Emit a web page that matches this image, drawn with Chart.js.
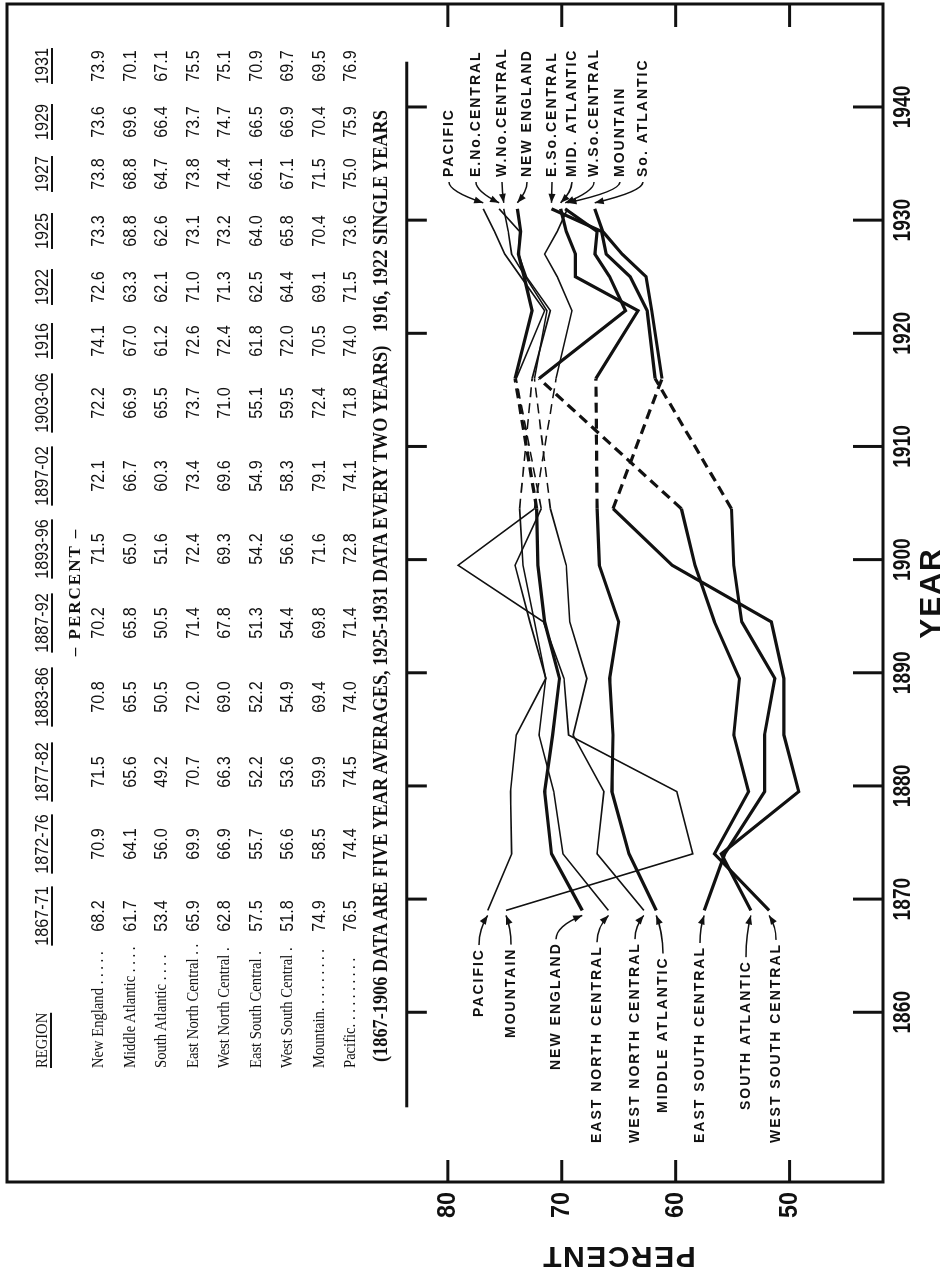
<!DOCTYPE html>
<html>
<head>
<meta charset="utf-8">
<script src="https://cdn.jsdelivr.net/npm/chart.js"></script>
<style>
html, body { margin:0; padding:0; background:#fff; }
body { width:950px; height:1272px; overflow:hidden; position:relative; }
/* the figure is laid out landscape and turned a quarter turn, as on the printed page */
#page { position:absolute; left:0; top:0; width:1272px; height:950px;
  transform-origin:0 0; transform:translate(0,1272px) rotate(-90deg); }
#chart { position:absolute; left:0; top:0; width:1272px; height:950px; }
#table { position:absolute; left:0; top:0; width:1272px; height:950px; color:#111; }
#table span { position:absolute; white-space:nowrap; }
.num { font:19px "Liberation Sans", Arial, sans-serif; transform:translate(-50%,-50%) scaleX(0.85); }
.head { text-decoration:underline; text-decoration-thickness:1.5px; text-underline-offset:3px; }
.name { font:17px "Liberation Serif", "Times New Roman", serif; transform:translateY(-50%) scaleX(0.86); transform-origin:0 50%; }
.pct { font:bold 17px "Liberation Serif", serif; letter-spacing:2px; transform:translate(-50%,-50%); }
.note { font:bold 22px "Liberation Serif", serif; transform-origin:0 50%; }
</style>
</head>
<body>
<div id="page">
<canvas id="chart" width="1272" height="950"></canvas>
<div id="table"></div>
</div>
<script>
// periods in the table and the year each one is plotted at
var periods = ['1867-71','1872-76','1877-82','1883-86','1887-92','1893-96','1897-02','1903-06','1916','1922','1925','1927','1929','1931'];
var years = [1869, 1874, 1879.5, 1884.5, 1889.5, 1894.5, 1899.5, 1904.5, 1916, 1922, 1925, 1927, 1929, 1931];

// percent, by region
var newEngland       = [68.2, 70.9, 71.5, 70.8, 70.2, 71.5, 72.1, 72.2, 74.1, 72.6, 73.3, 73.8, 73.6, 73.9];
var middleAtlantic   = [61.7, 64.1, 65.6, 65.5, 65.8, 65.0, 66.7, 66.9, 67.0, 63.3, 68.8, 68.8, 69.6, 70.1];
var southAtlantic    = [53.4, 56.0, 49.2, 50.5, 50.5, 51.6, 60.3, 65.5, 61.2, 62.1, 62.6, 64.7, 66.4, 67.1];
var eastNorthCentral = [65.9, 69.9, 70.7, 72.0, 71.4, 72.4, 73.4, 73.7, 72.6, 71.0, 73.1, 73.8, 73.7, 75.5];
var westNorthCentral = [62.8, 66.9, 66.3, 69.0, 67.8, 69.3, 69.6, 71.0, 72.4, 71.3, 73.2, 74.4, 74.7, 75.1];
var eastSouthCentral = [57.5, 55.7, 52.2, 52.2, 51.3, 54.2, 54.9, 55.1, 61.8, 62.5, 64.0, 66.1, 66.5, 70.9];
var westSouthCentral = [51.8, 56.6, 53.6, 54.9, 54.4, 56.6, 58.3, 59.5, 72.0, 64.4, 65.8, 67.1, 66.9, 69.7];
var mountain         = [74.9, 58.5, 59.9, 69.4, 69.8, 71.6, 79.1, 72.4, 70.5, 69.1, 70.4, 71.5, 70.4, 69.5];
var pacific          = [76.5, 74.4, 74.5, 74.0, 71.4, 72.8, 74.1, 71.8, 74.0, 71.5, 73.6, 75.0, 75.9, 76.9];

var yearTicks = [1860, 1870, 1880, 1890, 1900, 1910, 1920, 1930, 1940];
var percentTicks = [50, 60, 70, 80];

var footnote = '(1867-1906 DATA ARE FIVE YEAR AVERAGES, 1925-1931 DATA EVERY TWO YEARS)\u00a0\u00a0 1916, 1922 SINGLE YEARS';

var ink = '#111';
var gapStart = 1904.5;   // 1904.5 -> 1916 is drawn dashed

// name in table, label at start, label at end, series, heavy line?, label rows (start, end) and start offset
var regions = [
  { name:'New England . . . . .',     startLabel:'NEW ENGLAND',        endLabel:'NEW ENGLAND',  values:newEngland,       heavy:true,  rowA:556, leftA:202, rowB:527 },
  { name:'Middle Atlantic . . . .',   startLabel:'MIDDLE ATLANTIC',    endLabel:'MID. ATLANTIC', values:middleAtlantic,  heavy:true,  rowA:663, leftA:159, rowB:572 },
  { name:'South Atlantic . . . .',    startLabel:'SOUTH ATLANTIC',     endLabel:'So. ATLANTIC', values:southAtlantic,    heavy:true,  rowA:746, leftA:162, rowB:643 },
  { name:'East North Central . .',    startLabel:'EAST NORTH CENTRAL', endLabel:'E.No.CENTRAL', values:eastNorthCentral, heavy:false, rowA:597, leftA:129, rowB:476 },
  { name:'West North Central .',      startLabel:'WEST NORTH CENTRAL', endLabel:'W.No.CENTRAL', values:westNorthCentral, heavy:false, rowA:635, leftA:129, rowB:502 },
  { name:'East South Central .',      startLabel:'EAST SOUTH CENTRAL', endLabel:'E.So.CENTRAL', values:eastSouthCentral, heavy:true,  rowA:700, leftA:129, rowB:552 },
  { name:'West South Central .',      startLabel:'WEST SOUTH CENTRAL', endLabel:'W.So.CENTRAL', values:westSouthCentral, heavy:true,  rowA:776, leftA:129, rowB:594 },
  { name:'Mountain. . . . . . . . .', startLabel:'MOUNTAIN',           endLabel:'MOUNTAIN',     values:mountain,         heavy:false, rowA:511, leftA:234, rowB:620 },
  { name:'Pacific. . . . . . . . . .',startLabel:'PACIFIC',            endLabel:'PACIFIC',      values:pacific,          heavy:false, rowA:479, leftA:255, rowB:449 }
];

// ---- table (text laid over the upper part of the frame)
var table = document.getElementById('table');
var colX = [356, 428, 500, 575, 649, 723, 796, 869, 931, 985, 1041, 1098, 1150, 1206];
var headY = 42, rowY0 = 98, rowStep = 31.5;

function addSpan(cls, text, left, top) {
  var s = document.createElement('span');
  s.className = cls;
  s.textContent = text;
  s.style.left = left + 'px';
  s.style.top = top + 'px';
  table.appendChild(s);
  return s;
}

addSpan('name head', 'REGION', 204, headY);
periods.forEach(function (p, c) { addSpan('num head', p, colX[c], headY); });
addSpan('pct', '\u2013 PERCENT \u2013', 680, 75);
regions.forEach(function (r, i) {
  var ry = rowY0 + i * rowStep;
  addSpan('name', r.name, 204, ry);
  r.values.forEach(function (v, c) { addSpan('num', v.toFixed(1), colX[c], ry); });
});
var note = addSpan('note', footnote, 210, 380);
var noteW = note.offsetWidth;
note.style.transform = 'translateY(-50%) scaleX(' + (952 / noteW) + ')';

// ---- frame, ticks, labels and arrows
function arrow(ctx, x0, y0, cx, cy, x1, y1) {
  ctx.beginPath();
  ctx.moveTo(x0, y0);
  ctx.quadraticCurveTo(cx, cy, x1, y1);
  ctx.stroke();
  var ang = Math.atan2(y1 - cy, x1 - cx);
  var L = 9, W = 3.5;
  ctx.beginPath();
  ctx.moveTo(x1, y1);
  ctx.lineTo(x1 - L * Math.cos(ang) + W * Math.sin(ang), y1 - L * Math.sin(ang) - W * Math.cos(ang));
  ctx.lineTo(x1 - L * Math.cos(ang) - W * Math.sin(ang), y1 - L * Math.sin(ang) + W * Math.cos(ang));
  ctx.closePath();
  ctx.fill();
}

var decor = {
  id: 'decor',
  afterDraw: function (chart) {
    var ctx = chart.ctx, a = chart.chartArea, x = chart.scales.x, y = chart.scales.y;
    ctx.save();
    ctx.strokeStyle = ink;
    ctx.fillStyle = ink;
    ctx.lineWidth = 3;
    ctx.strokeRect(a.left, a.top, a.right - a.left, a.bottom - a.top);

    function seg(x1, y1, x2, y2) { ctx.beginPath(); ctx.moveTo(x1, y1); ctx.lineTo(x2, y2); ctx.stroke(); }

    // rule under the table, with year ticks
    var ry = y.getPixelForValue(83.6);
    seg(x.getPixelForValue(1851.6), ry, x.getPixelForValue(1944), ry);

    ctx.textAlign = 'center';
    ctx.textBaseline = 'middle';
    ctx.font = 'bold 24px "Liberation Sans", Arial, sans-serif';
    yearTicks.forEach(function (t) {
      var px = x.getPixelForValue(t);
      seg(px, a.bottom, px, a.bottom - 30);
      seg(px, ry, px, ry + 20);
      ctx.save(); ctx.translate(px, a.bottom + 20); ctx.scale(0.8, 1); ctx.fillText(String(t), 0, 0); ctx.restore();
    });
    ctx.font = 'bold 26px "Liberation Sans", Arial, sans-serif';
    percentTicks.forEach(function (t) {
      var py = y.getPixelForValue(t);
      seg(a.left, py, a.left + 22, py);
      seg(a.right, py, a.right - 23, py);
      ctx.save(); ctx.translate(a.left - 23, py); ctx.scale(0.9, 1); ctx.fillText(String(t), 0, 0); ctx.restore();
    });

    // axis titles
    ctx.font = 'bold 30px "Liberation Sans", Arial, sans-serif';
    ctx.letterSpacing = '2px';
    ctx.fillText('YEAR', (a.left + a.right) / 2, a.bottom + 49);
    ctx.save();
    ctx.translate(17, y.getPixelForValue(65));
    ctx.rotate(-Math.PI / 2);
    ctx.letterSpacing = '1.5px';
    ctx.fillText('PERCENT', 0, 0);
    ctx.restore();

    // series labels with arrows
    ctx.font = 'bold 14px "Liberation Sans", Arial, sans-serif';
    ctx.letterSpacing = '2px';
    ctx.textAlign = 'left';
    ctx.lineWidth = 1.5;
    var topLeft = 1095;
    regions.forEach(function (r) {
      var n = r.values.length;
      // start of series
      var sx = x.getPixelForValue(years[0]), sy = y.getPixelForValue(r.values[0]);
      ctx.fillText(r.startLabel, r.leftA, r.rowA);
      var w = ctx.measureText(r.startLabel).width;
      var ax = r.leftA + w + 3;
      var ex = sx - 5;
      arrow(ctx, ax, r.rowA, ax + (ex - ax) * 0.55, r.rowA, ex, sy);
      // end of series
      var tx = x.getPixelForValue(years[n - 1]), ty = y.getPixelForValue(r.values[n - 1]);
      ctx.fillText(r.endLabel, topLeft, r.rowB);
      var bx = topLeft - 5;
      var fx = tx + 6;
      arrow(ctx, bx, r.rowB, bx - (bx - fx) * 0.45, r.rowB, fx, ty);
    });
    ctx.restore();
  }
};

new Chart(document.getElementById('chart'), {
  type: 'line',
  data: {
    datasets: regions.map(function (r) {
      return {
        label: r.name,
        data: years.map(function (yr, i) { return { x: yr, y: r.values[i] }; }),
        borderColor: ink,
        borderWidth: r.heavy ? 3.2 : 1.6,
        pointRadius: 0,
        fill: false,
        tension: 0,
        segment: { borderDash: function (ctx) { return ctx.p0.parsed.x === gapStart ? [10, 6] : undefined; } }
      };
    })
  },
  options: {
    responsive: false,
    devicePixelRatio: 1,
    animation: false,
    events: [],
    layout: { padding: { left: 90, right: 4, top: 7, bottom: 67 } },
    plugins: { legend: { display: false }, tooltip: { enabled: false } },
    scales: {
      x: { type: 'linear', min: 1845, max: 1949.1, display: false },
      y: { min: 41.8, max: 118.7, display: false }
    }
  },
  plugins: [decor]
});
</script>
</body>
</html>
